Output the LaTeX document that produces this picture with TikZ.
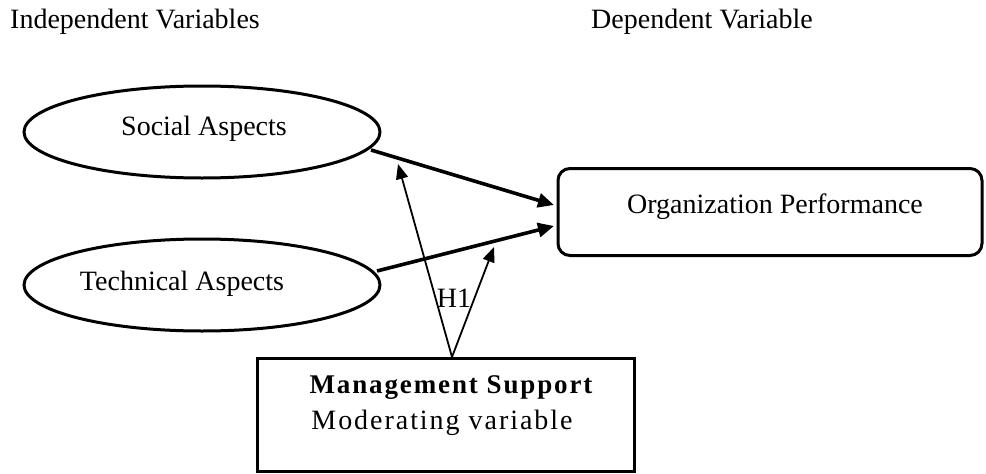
\documentclass[tikz,border=0pt]{standalone}
\usepackage{fontspec}
\setmainfont{Liberation Serif}
\newfontfamily\spacedfont[LetterSpace=7]{Liberation Serif}
\usetikzlibrary{arrows.meta,shapes.geometric}
\begin{document}
\begin{tikzpicture}[x=1pt,y=-1pt,
  txt/.style={font=\fontsize{28}{33}\selectfont, inner sep=0pt},
  boxtxt/.style={font=\spacedfont\fontsize{28}{33}\selectfont, inner sep=0pt},
  boxbold/.style={font=\spacedfont\fontsize{27}{33}\selectfont\bfseries, inner sep=0pt},
  oval/.style={draw, line width=3pt, ellipse, minimum width=356pt, minimum height=92pt, inner sep=0pt},
  thickarr/.style={line width=3.6pt, -{Triangle[length=16pt,width=14pt]}},
  thinarr/.style={line width=1.8pt, -{Triangle[length=15pt,width=12pt]}},
  ]
\path[use as bounding box] (0,0) rectangle (986,474);
\node[txt] (iv) at (135,22) {Independent Variables};
\node[txt] (dv) at (702,22) {Dependent Variable};
\node[oval] (soc) at (202,132) {};
\node[txt] (socl) at (204,129) {Social Aspects};
\node[oval] (tec) at (202,285) {};
\node[txt] (tecl) at (182,284) {Technical Aspects};
\node[draw, line width=3pt, rounded corners=12pt, minimum width=424pt, minimum height=87pt, inner sep=0pt] (org) at (770,212) {};
\node[txt] (orgl) at (775,207) {Organization Performance};
\node[draw, line width=3pt, minimum width=377pt, minimum height=113pt, inner sep=0pt] (ms) at (446,415) {};
\node[boxbold] (msl) at (451,388) {Management Support};
\node[boxtxt] (mvl) at (442,423) {Moderating variable};
\node[txt] (h1) at (454,298) {H1};
\coordinate (s1) at (371,150);
\coordinate (o1) at (554,205);
\coordinate (t1) at (377,271);
\coordinate (o2) at (554,226);
\coordinate (b) at (452,357);
\coordinate (a1) at (398,164);
\coordinate (a2) at (494,247);
\draw[thickarr] (s1) -- (o1);
\draw[thickarr] (t1) -- (o2);
\draw[thinarr] (b) -- (a1);
\draw[thinarr] (b) -- (a2);
\end{tikzpicture}
\end{document}
